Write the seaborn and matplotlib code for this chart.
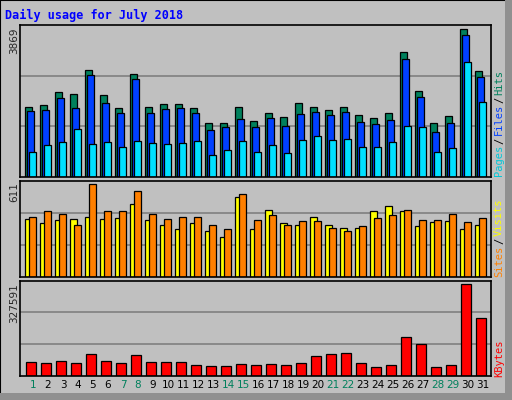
import matplotlib

matplotlib.use("Agg")
import matplotlib.pyplot as plt
import numpy as np
import seaborn as sns
from matplotlib.patches import Rectangle

days = list(range(1, 32))
weekend_days = [1, 7, 8, 14, 15, 21, 22, 28, 29]

hits = [1826, 1886, 2219, 2167, 2795, 2141, 1800, 2691, 1826, 1905, 1905, 1800, 1407, 1407, 1826, 1459,
        1669, 1564, 1931, 1826, 1748, 1826, 1617, 1538, 1669, 3267, 2245, 1407, 1590, 3869, 2769]
files = [1721, 1748, 2062, 1800, 2665, 1931, 1669, 2560, 1669, 1774, 1800, 1669, 1224, 1302, 1512, 1302,
         1538, 1328, 1643, 1695, 1617, 1695, 1433, 1381, 1486, 3084, 2088, 1171, 1407, 3712, 2612]
pages = [647, 831, 909, 1250, 857, 909, 778, 935, 883, 857, 883, 935, 569, 700, 935, 647,
         831, 621, 962, 1066, 962, 988, 778, 778, 909, 1328, 1302, 647, 752, 3005, 1957]
visits = [379, 352, 372, 379, 392, 379, 385, 478, 372, 339, 312, 352, 305, 259, 525, 312,
          438, 352, 339, 392, 339, 325, 319, 432, 465, 432, 332, 359, 365, 312, 345]
sites = [398, 432, 412, 345, 611, 432, 432, 565, 412, 379, 398, 392, 339, 312, 545, 372,
         405, 339, 365, 365, 325, 305, 332, 385, 405, 438, 372, 372, 412, 359, 385]
kbytes = [51308, 47720, 54896, 47720, 80012, 54896, 47720, 76424, 51308, 51308, 51308, 40544, 36956, 36956,
          44132, 40544, 44132, 40544, 47720, 72836, 80012, 83600, 47720, 33368, 40544, 137420, 112304,
          33368, 40544, 327591, 205592]

sns.set_theme(style="white")
plt.rcParams["font.family"] = ["DejaVu Sans Mono"]

BG = "#C0C0C0"
W, H = 512, 400
fig = plt.figure(figsize=(W / 100, H / 100), dpi=100, facecolor=BG)
fig.patches.append(Rectangle((0, 0), 1, 1, transform=fig.transFigure, fill=False,
                             edgecolor="black", linewidth=1.5))
fig.patches.append(Rectangle((505 / W, 0), 7 / W, 1, transform=fig.transFigure,
                             facecolor="#909090", edgecolor="none"))
fig.patches.append(Rectangle((0, 0), 1, 7 / H, transform=fig.transFigure,
                             facecolor="#909090", edgecolor="none"))


def px(x, y):
    return x / W, 1 - y / H


def panel(top, bottom):
    ax = fig.add_axes([20 / W, 1 - bottom / H, 471 / W, (bottom - top) / H])
    ax.set_facecolor(BG)
    ax.set_xlim(-5 / 15, 466 / 15)
    ax.set_xticks([])
    ax.set_yticklabels([])
    ax.tick_params(left=False, bottom=False)
    for s in ax.spines.values():
        s.set_color("black")
        s.set_linewidth(1.2)
    ax.set_axisbelow(True)
    return ax


def gridlines(ax, top):
    ax.set_ylim(0, top)
    for f in (1 / 3, 2 / 3):
        ax.axhline(top * f, color="#808080", linewidth=1.2, zorder=0)


x = np.arange(31)
bw = 7 / 15
kw = dict(align="edge", edgecolor="black", linewidth=0.9)

ax1 = panel(25, 177)
gridlines(ax1, 3982)
ax1.bar(x, hits, bw, color="#00805C", **kw)
ax1.bar(x + 2 / 15, files, bw, color="#0040FF", **kw)
ax1.bar(x + 4 / 15, pages, bw, color="#00E0FF", **kw)

ax2 = panel(180.5, 276.5)
gridlines(ax2, 637)
ax2.bar(x, visits, bw, color="#FFFF00", **kw)
ax2.bar(x + 4 / 15, sites, bw, color="#FF8000", **kw)

ax3 = panel(280.5, 376)
gridlines(ax3, 339800)
ax3.bar(x + 1 / 15, kbytes, 10 / 15, color="#FF0000", **kw)

for d in days:
    c = "#00805C" if d in weekend_days else "black"
    ax3.text(d - 1 + 8 / 15, -0.04, str(d), transform=ax3.get_xaxis_transform(),
             ha="center", va="top", fontsize=7.5, color=c, family="DejaVu Sans")

fig.text(*px(5, 15), "Daily usage for July 2018", color="#0000FF", fontsize=8.5,
         fontweight="bold", va="center", ha="left")

for y, label in [(27, "3869"), (182, "611"), (283, "327591")]:
    fig.text(*px(14, y), label, rotation=90, ha="center", va="top", fontsize=7.5,
             family="DejaVu Sans")

# right-hand rotated legends, built bottom-up
def side_label(y_bottom, parts):
    y = y_bottom
    for text, color in parts:
        t = fig.text(*px(499, y), text, rotation=90, ha="center", va="bottom",
                     fontsize=7.5, color=color)
        y -= len(text) * 6.1 + 2

side_label(176, [("Pages", "#00C8D8"), ("/", "black"), ("Files", "#0040FF"),
                 ("/", "black"), ("Hits", "#00805C")])
side_label(277, [("Sites", "#FF8000"), ("/", "black"), ("Visits", "#FFFF00")])
side_label(377, [("KBytes", "#FF0000")])

fig.savefig("out.png", dpi=100, facecolor=BG)
